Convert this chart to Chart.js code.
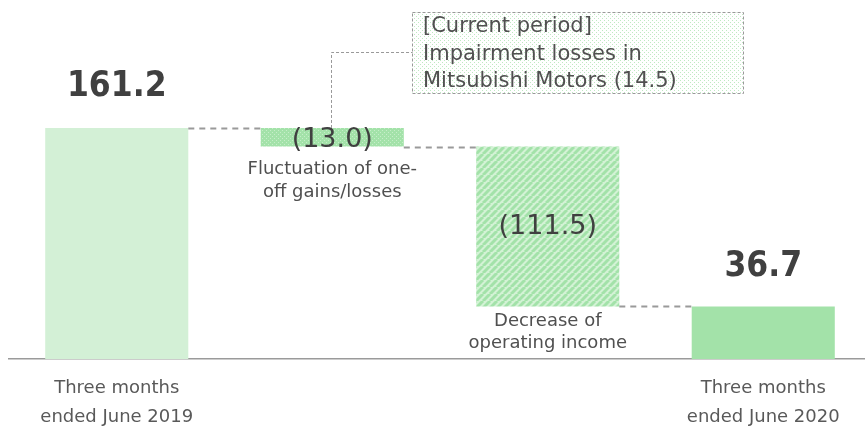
<!DOCTYPE html>
<html>
<head>
<meta charset="utf-8">
<script src="https://cdn.jsdelivr.net/npm/chart.js@4"></script>
<style>
html,body{margin:0;padding:0;background:#fff;overflow:hidden;}
#wrap{width:880px;height:427px;}
</style>
</head>
<body>
<div id="wrap"><canvas id="waterfall" width="880" height="427"></canvas></div>
<script>
// DATA

const categories = [
["Three months","ended June 2019"],
["Fluctuation of one-","off gains/losses"],
["Decrease of","operating income"],
["Three months","ended June 2020"]
];
const startValue = 161.2;
const changes = [-13.0, -111.5];
const endValue = 36.7;
const valueLabels = ["161.2","(13.0)","(111.5)","36.7"];
const noteLines = ["[Current period]","Impairment losses in","Mitsubishi Motors (14.5)"];

// build floating bars from the values
let ranges = [[0,startValue]];
let level = startValue;
changes.forEach(function(c){
ranges.push([level+c, level]);
level = level+c;
});
ranges.push([0,endValue]);

// PATTERNS

function makePattern(size, draw){
let c = document.createElement("canvas");
c.width = size; c.height = size;
let g = c.getContext("2d");
draw(g, size);
return document.getElementById("waterfall").getContext("2d").createPattern(c,"repeat");
}

const dotFill = makePattern(4, function(g){
g.fillStyle = "#a3e2a9";
g.fillRect(0,0,4,4);
g.fillStyle = "#c6eec9";
g.fillRect(0,0,1,1);
g.fillRect(2,2,1,1);
});

const stripeFill = makePattern(7, function(g, s){
g.fillStyle = "#d3f2d5";
g.fillRect(0,0,s,s);
g.strokeStyle = "#a3e2a9";
g.lineWidth = 3;
for(let k=-s;k<=s;k+=s){
g.beginPath();
g.moveTo(k,s);
g.lineTo(k+s,0);
g.stroke();
}
});

const boxFill = makePattern(4, function(g){
g.fillStyle = "#ffffff";
g.fillRect(0,0,4,4);
g.fillStyle = "#bfe9c2";
g.fillRect(0,0,1,1);
g.fillRect(2,2,1,1);
});

// EXTRA DRAWING (values, connectors, notes)

const waterfallExtras = {
id:"waterfallExtras",
afterDatasetsDraw(chart){
let ctx = chart.ctx;
let bars = chart.getDatasetMeta(0).data;
let y = chart.scales.y;
ctx.save();

// dashed connectors between bars
ctx.strokeStyle = "#9a9a9a";
ctx.lineWidth = 2;
ctx.setLineDash([6,5]);
for(let i=0;i<bars.length-1;i++){
let lvl = (i===0) ? ranges[0][1] : ranges[i][0];
let py = Math.round(y.getPixelForValue(lvl))+0.5;
ctx.beginPath();
ctx.moveTo(bars[i].x+bars[i].width/2, py);
ctx.lineTo(bars[i+1].x-bars[i+1].width/2, py);
ctx.stroke();
}

// value labels
ctx.fillStyle = "#404040";
ctx.textAlign = "center";
ctx.textBaseline = "alphabetic";
ctx.font = "bold 35px 'DejaVu Sans Condensed', 'DejaVu Sans'";
ctx.fillText(valueLabels[0], bars[0].x, y.getPixelForValue(ranges[0][1])-32);
ctx.fillText(valueLabels[3], bars[3].x, y.getPixelForValue(ranges[3][1])-30);
ctx.font = "27px 'DejaVu Sans'";
ctx.fillText(valueLabels[1], bars[1].x, y.getPixelForValue(ranges[1][0]));
let mid = (y.getPixelForValue(ranges[2][0])+y.getPixelForValue(ranges[2][1]))/2;
ctx.fillText(valueLabels[2], bars[2].x, mid+7);

// step notes under the middle bars
ctx.fillStyle = "#505050";
ctx.font = "18px 'DejaVu Sans'";
ctx.textBaseline = "middle";
let b1 = y.getPixelForValue(ranges[1][0]);
ctx.fillText(categories[1][0], bars[1].x, b1+23);
ctx.fillText(categories[1][1], bars[1].x, b1+46);
let b2 = y.getPixelForValue(ranges[2][0]);
ctx.fillText(categories[2][0], bars[2].x, b2+15);
ctx.fillText(categories[2][1], bars[2].x, b2+37);

// annotation box
let bx = 412.5, by = 12.5, bw = 331, bh = 81;
ctx.fillStyle = boxFill;
ctx.fillRect(bx,by,bw,bh);
ctx.setLineDash([3,2]);
ctx.lineWidth = 1;
ctx.strokeStyle = "#999999";
ctx.strokeRect(bx,by,bw,bh);

// leader line from the (13.0) bar
let lx = Math.round(bars[1].x)-0.5;
ctx.beginPath();
ctx.moveTo(lx, y.getPixelForValue(ranges[1][1]));
ctx.lineTo(lx, 52.5);
ctx.lineTo(bx, 52.5);
ctx.stroke();
ctx.setLineDash([]);

ctx.fillStyle = "#505050";
ctx.font = "21px 'DejaVu Sans'";
ctx.textAlign = "left";
ctx.textBaseline = "middle";
noteLines.forEach(function(t,i){
ctx.fillText(t, 423, 27+i*27.5);
});

ctx.restore();
}
};

// CHART

new Chart(
document.getElementById("waterfall"),
{
type:"bar",
data:{
labels:categories,
datasets:[{
data:ranges,
backgroundColor:["#d3f0d6", dotFill, stripeFill, "#a3e2a9"],
borderWidth:0,
borderSkipped:false,
barPercentage:0.664,
categoryPercentage:1
}]
},
options:{
responsive:false,
animation:false,
layout:{padding:{left:9,right:9,top:0,bottom:0}},
plugins:{
legend:{display:false},
tooltip:{enabled:false}
},
scales:{
x:{
grid:{display:false,drawTicks:false},
border:{display:true,color:"#9a9a9a",width:1.5},
ticks:{
color:"#595959",
padding:14.5,
font:{family:"DejaVu Sans",size:18,lineHeight:29/18},
maxRotation:0,
autoSkip:false,
callback:function(v,i){
return (i===0 || i===categories.length-1) ? categories[i] : "";
}
},
afterFit:function(axis){ axis.height = 68; }
},
y:{
display:false,
min:0,
max:250.5
}
}
},
plugins:[waterfallExtras]
}
);
</script>
</body>
</html>
